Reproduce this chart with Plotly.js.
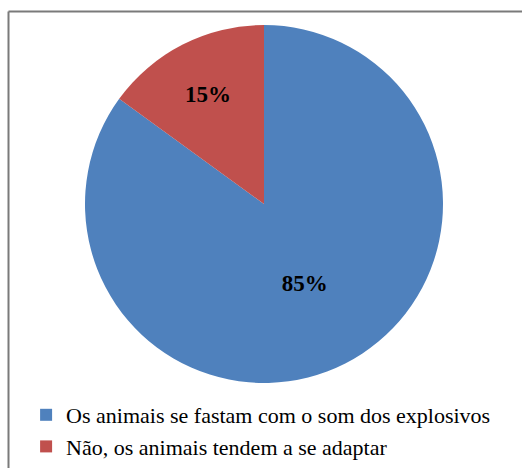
<!DOCTYPE html>
<html>
<head>
<meta charset="utf-8">
<script src="https://cdn.plot.ly/plotly-3.0.1.min.js"></script>
<style>
  html, body { margin: 0; padding: 0; background: #fff; }
  #chart { width: 522px; height: 468px; }
</style>
</head>
<body>
<div id="chart"></div>
<script>
// Answer categories and their shares (%)
const categories = [
  "Os animais se fastam com o som dos explosivos",
  "Não, os animais tendem a se adaptar"
];
const shares = [85, 15];
const sliceColors = ["#4F81BD", "#C0504D"];

const W = 522, H = 468;
const SERIF = "Liberation Serif";

const trace = {
  type: "pie",
  labels: categories,
  values: shares,
  sort: false,
  direction: "clockwise",
  rotation: 0,
  marker: { colors: sliceColors, line: { width: 0 } },
  texttemplate: "<b>%{value}%</b>",
  textposition: "inside",
  insidetextorientation: "horizontal",
  insidetextfont: { family: SERIF, size: 23, color: "#000" },
  hoverinfo: "label+percent",
  domain: {
    x: [(264 - 179) / W, (264 + 179) / W],
    y: [1 - (204 + 179) / H, 1 - (204 - 179) / H]
  }
};

const layout = {
  width: W,
  height: H,
  margin: { l: 0, r: 0, t: 0, b: 0 },
  paper_bgcolor: "#ffffff",
  showlegend: true,
  font: { family: SERIF, color: "#000" },
  legend: {
    orientation: "v",
    x: 0.05,
    xanchor: "left",
    y: 1 - 394 / H,
    yanchor: "top",
    font: { family: SERIF, size: 22, color: "#000" },
    traceorder: "normal"
  },
  shapes: [
    // frame edges (top and left)
    { type: "line", xref: "paper", yref: "paper", x0: 8.5 / W, x1: 1, y0: 1 - 11.5 / H, y1: 1 - 11.5 / H,
      line: { color: "#7a7a7a", width: 2 } },
    { type: "line", xref: "paper", yref: "paper", x0: 8.5 / W, x1: 8.5 / W, y0: 0, y1: 1 - 11.5 / H,
      line: { color: "#7a7a7a", width: 2 } }
  ]
};

Plotly.newPlot("chart", [trace], layout, { displayModeBar: false, staticPlot: true });
</script>
</body>
</html>
